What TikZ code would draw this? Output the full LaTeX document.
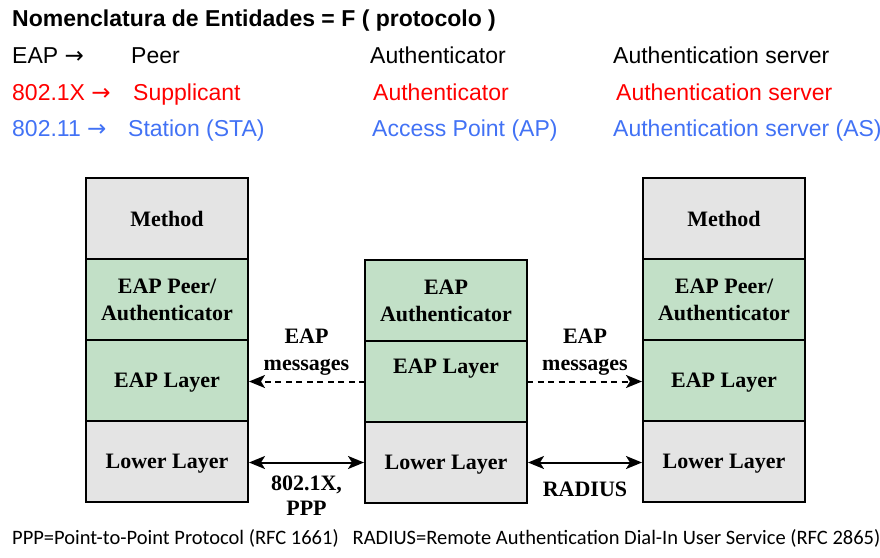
\documentclass[tikz,border=0pt]{standalone}
\usepackage{fontspec}
\setmainfont{Liberation Serif}
\newfontfamily\headfont{Liberation Sans}
\newfontfamily\arrowfont{DejaVu Sans}
\newfontfamily\notefont{Carlito}
\usepackage{xcolor}
\usetikzlibrary{arrows.meta,positioning}
\definecolor{layergray}{RGB}{228,228,228}
\definecolor{layergreen}{RGB}{194,224,199}
\definecolor{eapred}{RGB}{255,0,0}
\definecolor{eapblue}{RGB}{66,114,245}
\newcommand{\toarrow}{{\arrowfont →}}

\tikzset{
  layer/.style={draw, line width=1.5pt, minimum width=162pt, minimum height=81pt,
    outer sep=0pt, inner sep=2pt, align=center, text depth=0pt,
    font=\fontsize{22}{27}\selectfont\bfseries},
  graylayer/.style={layer, fill=layergray},
  greenlayer/.style={layer, fill=layergreen},
  lbl/.style={align=center, inner sep=1pt, font=\fontsize{22}{27}\selectfont\bfseries},
  msg/.style={line width=2pt, dash pattern=on 6pt off 4.5pt,
    -{Stealth[length=16pt,width=13pt,inset=4pt]}, shorten >=1pt},
  link/.style={line width=2pt,
    {Stealth[length=16pt,width=13pt,inset=4pt]}-{Stealth[length=16pt,width=13pt,inset=4pt]},
    shorten >=1pt, shorten <=1pt},
  hdr/.style={anchor=base west, inner sep=0pt, font=\headfont\fontsize{23}{28}\selectfont},
}

\begin{document}
\begin{tikzpicture}[x=1pt,y=-1pt]
\useasboundingbox (0,0) rectangle (880,557);

% Header - entity names per protocol
\node[hdr, font=\headfont\bfseries\fontsize{23}{28}\selectfont] (title) at (12,26) {Nomenclatura de Entidades = F ( protocolo )};
\node[hdr] (eap) at (12,63) {EAP \toarrow};
\node[hdr] (eappeer) at (131,63) {Peer};
\node[hdr] (eapauth) at (370,63) {Authenticator};
\node[hdr] (eapserv) at (613,63) {Authentication server};
\node[hdr, text=eapred] (dot1x) at (12,100) {802.1X \toarrow};
\node[hdr, text=eapred] (dot1xpeer) at (133,100) {Supplicant};
\node[hdr, text=eapred] (dot1xauth) at (373,100) {Authenticator};
\node[hdr, text=eapred] (dot1xserv) at (616,100) {Authentication server};
\node[hdr, text=eapblue] (wifi) at (12,136) {802.11 \toarrow};
\node[hdr, text=eapblue] (wifipeer) at (128,136) {Station (STA)};
\node[hdr, text=eapblue] (wifiauth) at (372,136) {Access Point (AP)};
\node[hdr, text=eapblue] (wifiserv) at (613,136) {Authentication server (AS)};

% Left stack - peer
\node[graylayer] (pm) at (167,218.5) {Method};
\node[greenlayer, below=0pt of pm] (pe) {EAP Peer/\\Authenticator};
\node[greenlayer, below=0pt of pe] (pl) {EAP Layer};
\node[graylayer, below=0pt of pl] (pw) {Lower Layer};

% Middle stack - authenticator
\node[greenlayer] (ma) at (446,300.5) {EAP\\Authenticator};
\node[greenlayer, below=0pt of ma] (ml) {};
\node[lbl] (mlt) at ([yshift=-28pt]ml.north) {EAP Layer};
\node[graylayer, below=0pt of ml] (mw) {Lower Layer};

% Right stack - authentication server
\node[graylayer] (sm) at (724,218.5) {Method};
\node[greenlayer, below=0pt of sm] (se) {EAP Peer/\\Authenticator};
\node[greenlayer, below=0pt of se] (sl) {EAP Layer};
\node[graylayer, below=0pt of sl] (sw) {Lower Layer};

% EAP messages (dashed)
\draw[msg] (ml.west) -- (pl.east |- ml.west)
  node[lbl, midway, above=4pt] (msgl) {EAP\\messages};
\draw[msg] (ml.east) -- (sl.west |- ml.east)
  node[lbl, midway, above=4pt] (msgr) {EAP\\messages};

% Lower layer links
\draw[link] (pw.east |- mw.west) -- (mw.west)
  node[lbl, midway, below=11pt, font=\fontsize{22}{25}\selectfont\bfseries] (ppp) {802.1X,\\PPP};
\draw[link] (mw.east) -- (sw.west |- mw.east)
  node[lbl, midway, below=17pt] (radius) {RADIUS};

% Footnote
\node[anchor=base west, inner sep=0pt, font=\notefont\fontsize{20.5}{24}\selectfont] (note) at (12,544)
  {PPP=Point-to-Point Protocol (RFC 1661)\hspace{14pt}RADIUS=Remote Authentication Dial-In User Service (RFC 2865)};
\end{tikzpicture}
\end{document}
